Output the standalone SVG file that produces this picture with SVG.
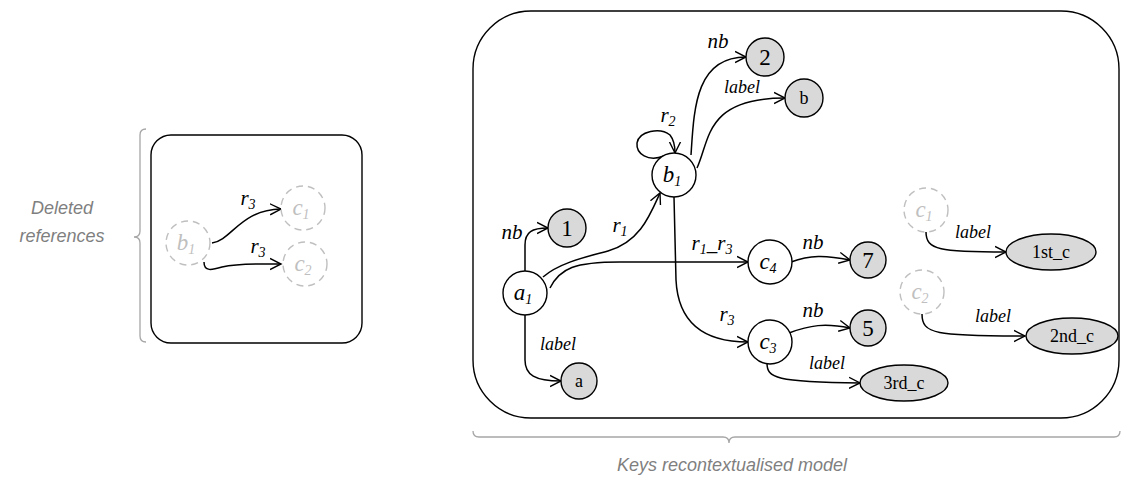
<svg xmlns="http://www.w3.org/2000/svg" width="1121" height="479" viewBox="0 0 1121 479">
<defs>
<marker id="arr" markerUnits="userSpaceOnUse" markerWidth="14" markerHeight="14" refX="11" refY="6" orient="auto" viewBox="0 0 14 12">
<path d="M0,0.5 L11,6 L0,11.5" fill="none" stroke="#000" stroke-width="1.4"/>
</marker>
</defs>
<style>
.box{fill:none;stroke:#000;stroke-width:1.4}
.brace{fill:none;stroke:#a6a6a6;stroke-width:1.3}
.cap{font-family:"Liberation Sans",Arial,sans-serif;font-style:italic;fill:#7f7f7f;font-size:18px;text-anchor:middle}
.n{fill:#fff;stroke:#000;stroke-width:1.4}
.v{fill:#d9d9d9;stroke:#000;stroke-width:1.4}
.d{fill:#fff;stroke:#bfbfbf;stroke-width:1.4;stroke-dasharray:7 5}
.nl{font-family:"Liberation Serif","Times New Roman",serif;font-style:italic;font-size:23px;text-anchor:middle;fill:#000}
.dl{font-family:"Liberation Serif","Times New Roman",serif;font-style:italic;font-size:23px;text-anchor:middle;fill:#bfbfbf}
.vl{font-family:"Liberation Serif","Times New Roman",serif;font-size:23px;text-anchor:middle;fill:#000}
.vs{font-family:"Liberation Serif","Times New Roman",serif;font-size:18px;text-anchor:middle;fill:#000}
.el{font-family:"Liberation Serif","Times New Roman",serif;font-style:italic;font-size:21px;text-anchor:middle;fill:#000}
.ls{font-family:"Liberation Serif","Times New Roman",serif;font-style:italic;font-size:18px;text-anchor:middle;fill:#000}
.sub{font-size:14px}
.e{fill:none;stroke:#000;stroke-width:1.5;marker-end:url(#arr)}
</style>

<g id="frames">
<rect class="box" x="151" y="135" width="211" height="208" rx="20"/>
<rect class="box" x="473" y="11" width="646" height="407" rx="58"/>
<path class="brace" d="M146,129 Q140,129 140,135 L140,231 Q140,237 134,237 Q140,237 140,243 L140,336 Q140,342 146,342"/>
<path class="brace" d="M473,431 Q473,437 479,437 L723,437 Q729,437 729,443 Q729,437 735,437 L1114,437 Q1120,437 1120,431"/>
<text class="cap" x="62" y="214">Deleted</text>
<text class="cap" x="62" y="242">references</text>
<text class="cap" x="732" y="471">Keys recontextualised model</text>
</g>

<g id="connectors">
<path class="e" d="M212,243 C232,240 240,210 281,209"/>
<text class="el" x="248" y="205">r<tspan class="sub" dy="4">3</tspan></text>
<path class="e" d="M204,262 C204,272 212,270 222,267 C240,263 260,264 281,264"/>
<text class="el" x="258" y="253">r<tspan class="sub" dy="4">3</tspan></text>

<path class="e" d="M525,271 L525,245 C525,232 532,228 548,228"/>
<text class="el" x="512" y="239">nb</text>
<path class="e" d="M525,315 L525,360 C525,375 535,381 561,381"/>
<text class="ls" x="558" y="350">label</text>
<path class="e" d="M543,277 C560,262 590,256 608,251 C640,242 650,215 660,193"/>
<text class="el" x="620" y="232">r<tspan class="sub" dy="4">1</tspan></text>
<path class="e" d="M550,288 C560,268 575,262 620,262 L748,262"/>
<text class="el" x="712" y="250">r<tspan class="sub" dy="4">1</tspan><tspan dy="-4">_r</tspan><tspan class="sub" dy="4">3</tspan></text>
<path class="e" d="M674,197 L676,280 C678,320 700,342 748,342"/>
<text class="el" x="727" y="321">r<tspan class="sub" dy="4">3</tspan></text>
<path class="e" d="M791,262 C810,255 825,255 850,260"/>
<text class="el" x="813" y="249">nb</text>
<path class="e" d="M789,333 C810,325 825,323 850,328"/>
<text class="el" x="813" y="317">nb</text>
<path class="e" d="M767,363 C767,378 775,382 860,383"/>
<text class="ls" x="827" y="369">label</text>
<path class="e" d="M691,155 C694,110 695,57 746,57"/>
<text class="el" x="718" y="48">nb</text>
<path class="e" d="M697,168 C710,140 705,98 785,98"/>
<text class="ls" x="742" y="93">label</text>
<path class="e" d="M664,156 C648,162 636,154 637,143 C639,131 660,127 670,135 C674,140 675,147 675,153"/>
<text class="el" x="668" y="122">r<tspan class="sub" dy="4">2</tspan></text>
<path class="e" d="M926,232 C926,250 940,252 1006,252"/>
<text class="ls" x="973" y="238">label</text>
<path class="e" d="M922,314 C922,334 935,336 1025,336"/>
<text class="ls" x="993" y="322">label</text>
</g>

<g id="node-b1-del"><circle class="d" cx="188" cy="243" r="22"/><text class="dl" x="186" y="250">b<tspan class="sub" dy="4">1</tspan></text></g>
<g id="node-c1-del"><circle class="d" cx="303" cy="208" r="22"/><text class="dl" x="301" y="215">c<tspan class="sub" dy="4">1</tspan></text></g>
<g id="node-c2-del"><circle class="d" cx="305" cy="264" r="22"/><text class="dl" x="303" y="271">c<tspan class="sub" dy="4">2</tspan></text></g>

<g id="node-b1"><circle class="n" cx="674" cy="175" r="22"/><text class="nl" x="672" y="182">b<tspan class="sub" dy="4">1</tspan></text></g>
<g id="node-a1"><circle class="n" cx="525" cy="293" r="22"/><text class="nl" x="523" y="300">a<tspan class="sub" dy="4">1</tspan></text></g>
<g id="node-c4"><circle class="n" cx="770" cy="262" r="22"/><text class="nl" x="768" y="269">c<tspan class="sub" dy="4">4</tspan></text></g>
<g id="node-c3"><circle class="n" cx="770" cy="342" r="22"/><text class="nl" x="768" y="349">c<tspan class="sub" dy="4">3</tspan></text></g>
<g id="node-c1"><circle class="d" cx="926" cy="210" r="22"/><text class="dl" x="924" y="217">c<tspan class="sub" dy="4">1</tspan></text></g>
<g id="node-c2"><circle class="d" cx="922" cy="292" r="22"/><text class="dl" x="920" y="299">c<tspan class="sub" dy="4">2</tspan></text></g>

<g id="node-2"><circle class="v" cx="765" cy="57" r="19"/><text class="vl" x="765" y="65">2</text></g>
<g id="node-b"><circle class="v" cx="804" cy="98" r="19"/><text class="vs" x="804" y="104">b</text></g>
<g id="node-1"><circle class="v" cx="567" cy="228" r="19"/><text class="vl" x="567" y="236">1</text></g>
<g id="node-a"><circle class="v" cx="579" cy="381" r="18"/><text class="vs" x="579" y="387">a</text></g>
<g id="node-7"><circle class="v" cx="868" cy="260" r="18"/><text class="vl" x="868" y="268">7</text></g>
<g id="node-5"><circle class="v" cx="868" cy="328" r="18"/><text class="vl" x="868" y="336">5</text></g>
<g id="node-3rd_c"><ellipse class="v" cx="904" cy="383" rx="44" ry="18"/><text class="vs" x="904" y="389">3rd_c</text></g>
<g id="node-1st_c"><ellipse class="v" cx="1051" cy="252" rx="45" ry="18"/><text class="vs" x="1051" y="258">1st_c</text></g>
<g id="node-2nd_c"><ellipse class="v" cx="1072" cy="336" rx="46" ry="18"/><text class="vs" x="1072" y="342">2nd_c</text></g>
</svg>
